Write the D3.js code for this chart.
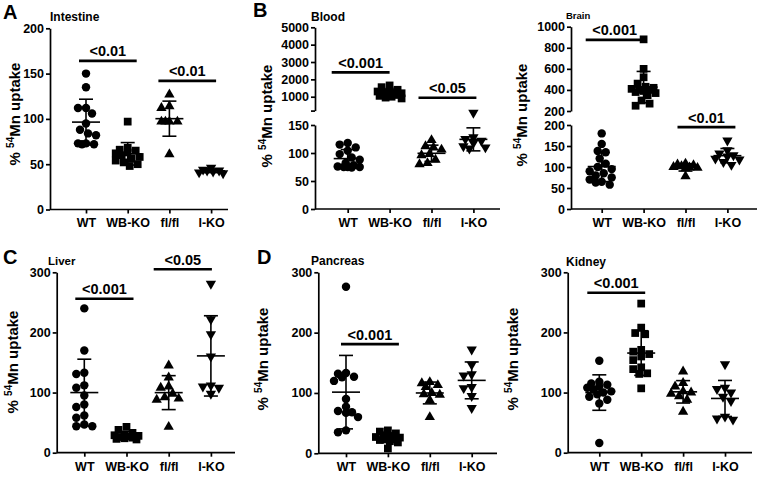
<!DOCTYPE html>
<html><head><meta charset="utf-8">
<script src="https://cdn.jsdelivr.net/npm/d3@7"></script>
<style>
body{margin:0;background:#fff;}
svg{display:block;font-family:"Liberation Sans",Arial,sans-serif;font-weight:bold;}
</style></head>
<body><svg id="c" width="760" height="479"></svg>
<script>
// ---------- DATA ----------
const categories = ["WT", "WB-KO", "fl/fl", "I-KO"];
const shapes = ["circle", "square", "triangleUp", "triangleDown"];

const intestineWT   = [150, 135, 112, 112, 106, 95, 88, 84, 82, 73, 73, 72, 72];
const intestineWBKO = [97, 68, 66, 65, 63, 62, 60, 58, 56, 54, 52, 50, 48];
const intestineFlfl = [127, 114, 112, 97, 97, 97, 97, 61];
const intestineIKO  = [46, 44, 43, 43, 42, 41, 40];

const bloodWT   = [118, 115, 110, 104, 98, 92, 88, 82, 78, 76, 75, 75, 75, 74];
const bloodWBKO = [1650, 1550, 1400, 1350, 1300, 1250, 1200, 1200, 1150, 1100, 1050, 1000, 950, 900];
const bloodFlfl = [123, 112, 110, 106, 98, 96, 88, 82, 80];
const bloodIKO  = [172, 128, 125, 122, 118, 112, 110, 108];

const brainWT   = [180, 155, 138, 135, 120, 108, 100, 95, 90, 85, 80, 75, 70, 65, 63, 58];
const brainWBKO = [880, 600, 520, 460, 430, 420, 410, 400, 400, 390, 380, 370, 350, 300, 270, 250];
const brainFlfl = [108, 106, 104, 102, 100, 99, 98, 97, 78];
const brainIKO  = [163, 140, 132, 128, 125, 120, 118, 112, 105];

const liverWT   = [240, 170, 133, 131, 112, 108, 95, 80, 76, 62, 58, 47, 44, 44];
const liverWBKO = [43, 38, 33, 30, 29, 28, 27, 26, 25, 24, 23, 22];
const liverFlfl = [145, 125, 110, 108, 98, 92, 90, 88, 43];
const liverIKO  = [281, 222, 197, 160, 112, 110, 108, 98];

const pancreasWT   = [276, 133, 132, 127, 126, 120, 90, 77, 70, 68, 67, 60, 38, 35];
const pancreasWBKO = [38, 36, 33, 30, 28, 27, 26, 25, 24, 22, 20, 18, 8];
const pancreasFlfl = [118, 116, 113, 110, 100, 98, 97, 88, 60];
const pancreasIKO  = [172, 147, 131, 129, 110, 108, 95, 75];

const kidneyWT   = [153, 118, 115, 113, 110, 108, 105, 102, 100, 97, 93, 88, 82, 16];
const kidneyWBKO = [248, 208, 199, 197, 171, 168, 164, 160, 154, 142, 139, 132, 131, 107];
const kidneyFlfl = [135, 116, 110, 102, 100, 98, 94, 88, 68];
const kidneyIKO  = [147, 108, 106, 100, 93, 86, 60, 57, 55];

// significance brackets: [from category, to category, value, label]
const intestineSig = [["WT", "WB-KO", 164, "<0.01"], ["fl/fl", "I-KO", 142, "<0.01"]];
const bloodSig     = [["WT", "WB-KO", 2400, "<0.001"], ["fl/fl", "I-KO", 940, "<0.05"]];
const brainSig     = [["WT", "WB-KO", 875, "<0.001"], ["fl/fl", "I-KO", 195, "<0.01"]];
const liverSig     = [["WT", "WB-KO", 256, "<0.001"], ["fl/fl", "I-KO", 305, "<0.05"]];
const pancreasSig  = [["WT", "WB-KO", 181, "<0.001"]];
const kidneySig    = [["WT", "WB-KO", 266, "<0.001"]];

// tick values
const ticks0to200 = [0, 50, 100, 150, 200];
const ticks0to150 = [0, 50, 100, 150];
const ticks0to300 = [0, 100, 200, 300];
const bloodUpperTicks = [200, 1000, 2000, 3000, 4000, 5000];
const brainUpperTicks = [200, 400, 600, 800, 1000];

// ---------- LAYOUT ----------
const panels = [
  {letter: "A", lx: 3, ly: 19, title: "Intestine", tx: 50, ty: 21, tfs: 12,
   groups: [intestineWT, intestineWBKO, intestineFlfl, intestineIKO], sig: intestineSig, sigShift: [1, -3],
   axisX: 50, catStart: 86, catStep: 41.7, xEnd: 228, baseY: 209.5,
   segs: [{domain: [0, 200], range: [209.5, 28.3], ticks: ticks0to200}],
   labX: 15, labY: 114},
  {letter: "B", lx: 253, ly: 17, title: "Blood", tx: 311, ty: 21, tfs: 12,
   groups: [bloodWT, bloodWBKO, bloodFlfl, bloodIKO], sig: bloodSig, sigShift: [-8, -5],
   axisX: 315, catStart: 347.7, catStep: 41.9, xEnd: 500, baseY: 209,
   segs: [{domain: [0, 150], range: [209, 125], ticks: ticks0to150},
          {domain: [200, 5000], range: [110.6, 27.3], ticks: bloodUpperTicks, hideFirst: true}],
   labX: 267, labY: 116},
  {letter: "", title: "Brain", tx: 566, ty: 19, tfs: 9.5,
   groups: [brainWT, brainWBKO, brainFlfl, brainIKO], sig: brainSig, sigShift: [-8, 0],
   axisX: 571, catStart: 601.7, catStep: 41.9, xEnd: 757, baseY: 209,
   segs: [{domain: [0, 200], range: [209, 125], ticks: ticks0to200},
          {domain: [200, 1000], range: [111, 26.7], ticks: brainUpperTicks}],
   labX: 522, labY: 115},
  {letter: "C", lx: 3, ly: 264, title: "Liver", tx: 48, ty: 265, tfs: 11.5,
   groups: [liverWT, liverWBKO, liverFlfl, liverIKO], sig: liverSig, sigShift: [-1, -7],
   axisX: 56.7, catStart: 84.3, catStep: 42.2, xEnd: 235, baseY: 452.7,
   segs: [{domain: [0, 300], range: [452.7, 272.3], ticks: ticks0to300}],
   labX: 12.5, labY: 362},
  {letter: "D", lx: 257, ly: 264, title: "Pancreas", tx: 311, ty: 265, tfs: 12,
   groups: [pancreasWT, pancreasWBKO, pancreasFlfl, pancreasIKO], sig: pancreasSig, sigShift: [3],
   axisX: 318.3, catStart: 346, catStep: 41.9, xEnd: 497, baseY: 453.3,
   segs: [{domain: [0, 300], range: [453.3, 272.3], ticks: ticks0to300}],
   labX: 263, labY: 359},
  {letter: "", title: "Kidney", tx: 566, ty: 266, tfs: 12,
   groups: [kidneyWT, kidneyWBKO, kidneyFlfl, kidneyIKO], sig: kidneySig, sigShift: [-4],
   axisX: 567.7, catStart: 599.3, catStep: 41.9, xEnd: 752, baseY: 452.7,
   segs: [{domain: [0, 300], range: [452.7, 272.3], ticks: ticks0to300}],
   labX: 513, labY: 359}
];

const svg = d3.select("#c");
const symTypes = {
  circle: {type: d3.symbolCircle, size: 56, rot: 0},
  square: {type: d3.symbolSquare, size: 60, rot: 0},
  triangleUp: {type: d3.symbolTriangle, size: 46, rot: 0},
  triangleDown: {type: d3.symbolTriangle, size: 46, rot: 180}
};

// deterministic compact spread of overlapping points (limited width)
function swarm(ys, minDist, step, maxOff) {
  const placed = [];
  const cands = [0];
  for (let k = 1; k * step <= maxOff; k++) { cands.push(-k * step, k * step); }
  return ys.map(y => {
    let best = 0, bestD = -1;
    for (const dx of cands) {
      let dmin = Infinity;
      placed.forEach(p => { const d = Math.hypot(p.x - dx, p.y - y); if (d < dmin) dmin = d; });
      if (dmin >= minDist) { best = dx; bestD = dmin; break; }
      if (dmin > bestD + 0.5) { bestD = dmin; best = dx; }
    }
    placed.push({x: best, y});
    return best;
  });
}

panels.forEach(p => {
  const g = svg.append("g");
  const x = d3.scalePoint().domain(categories).range([p.catStart, p.catStart + 3 * p.catStep]);
  const segScales = p.segs.map(s => d3.scaleLinear().domain(s.domain).range(s.range));
  const y = v => {
    if (p.segs.length === 1) return segScales[0](v);
    return v <= p.segs[1].domain[0] ? segScales[0](v) : segScales[1](v);
  };

  // y axes
  p.segs.forEach((s, i) => {
    const ax = d3.axisLeft(segScales[i]).tickValues(s.ticks).tickSize(4).tickSizeOuter(0).tickPadding(2)
      .tickFormat(d => (s.hideFirst && d === s.ticks[0]) ? "" : d);
    const a = g.append("g").attr("transform", `translate(${p.axisX},0)`).call(ax);
    a.select(".domain").attr("stroke-width", 1.7);
    a.selectAll(".tick line").attr("stroke-width", 1.7);
    a.selectAll("text").attr("font-size", 12.5).attr("font-weight", "bold")
      .attr("font-family", "Liberation Sans, Arial, sans-serif").attr("fill", "#000");
  });

  // x axis
  g.append("line").attr("x1", p.axisX).attr("x2", p.xEnd).attr("y1", p.baseY).attr("y2", p.baseY)
    .attr("stroke", "#000").attr("stroke-width", 1.7);
  const xa = d3.axisBottom(x).tickSize(4).tickSizeOuter(0).tickPadding(5);
  const xg = g.append("g").attr("transform", `translate(0,${p.baseY})`).call(xa);
  xg.select(".domain").remove();
  xg.selectAll(".tick line").attr("stroke-width", 1.7);
  xg.selectAll("text").attr("font-size", 12.5).attr("font-weight", "bold")
    .attr("font-family", "Liberation Sans, Arial, sans-serif").attr("fill", "#000");

  // y label
  const lab = g.append("text").attr("transform", `translate(${p.labX + 5},${p.labY}) rotate(-90)`)
    .attr("text-anchor", "middle").attr("font-size", 15);
  lab.append("tspan").text("% ");
  lab.append("tspan").attr("font-size", 10).attr("dy", -6).text("54");
  lab.append("tspan").attr("dy", 6).text("Mn uptake");

  // title & letter
  g.append("text").attr("x", p.tx).attr("y", p.ty).attr("font-size", p.tfs).text(p.title);
  if (p.letter) g.append("text").attr("x", p.lx).attr("y", p.ly).attr("font-size", 20).text(p.letter);

  // points
  p.groups.forEach((vals, gi) => {
    const cx = x(categories[gi]);
    const ys = vals.map(y);
    const offs = swarm(ys, 7.5, 2, 13);
    const st = symTypes[shapes[gi]];
    const sym = d3.symbol().type(st.type).size(st.size);
    g.append("g").selectAll("path").data(vals).join("path")
      .attr("d", sym)
      .attr("transform", (d, i) => `translate(${cx + offs[i]},${ys[i]}) rotate(${st.rot})`)
      .attr("fill", "#000");

    // mean ± SD
    const m = d3.mean(vals), sd = d3.deviation(vals);
    const eb = g.append("g").attr("stroke", "#000").attr("stroke-width", 1.6).attr("fill", "none");
    eb.append("line").attr("x1", cx - 14).attr("x2", cx + 14).attr("y1", y(m)).attr("y2", y(m));
    eb.append("line").attr("x1", cx).attr("x2", cx).attr("y1", y(m - sd)).attr("y2", y(m + sd));
    [m - sd, m + sd].forEach(v => eb.append("line").attr("x1", cx - 7).attr("x2", cx + 7).attr("y1", y(v)).attr("y2", y(v)));
  });

  // significance
  p.sig.forEach((s, i) => {
    const x1 = x(s[0]), x2 = x(s[1]);
    const mid = (x1 + x2) / 2 + p.sigShift[i];
    const half = (x2 - x1) / 2 + 8;
    const yy = y(s[2]);
    g.append("line").attr("x1", mid - half).attr("x2", mid + half).attr("y1", yy).attr("y2", yy)
      .attr("stroke", "#000").attr("stroke-width", 2.6);
    g.append("text").attr("x", mid).attr("y", yy - 4.5).attr("text-anchor", "middle")
      .attr("font-size", 14.5).text(s[3]);
  });
});
</script></body></html>
